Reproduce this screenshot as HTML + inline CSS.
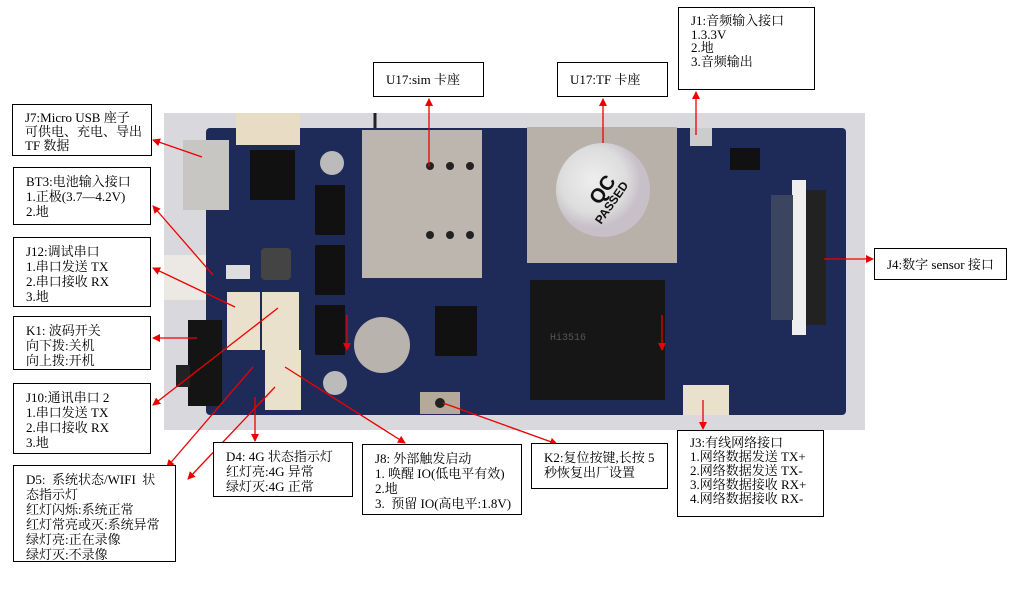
<!DOCTYPE html>
<html><head><meta charset="utf-8"><style>
body{margin:0;width:1012px;height:589px;background:#fff;overflow:hidden;position:relative;font-family:"Liberation Serif","Noto Serif CJK SC","Noto Sans CJK SC",serif;}
.b{position:absolute;border:1px solid #000;background:#fff;font-size:13px;line-height:15px;padding:6px 0 0 12px;box-sizing:border-box;color:#000;white-space:nowrap}
svg{position:absolute;left:0;top:0}
</style></head><body>
<svg width="1012" height="589" viewBox="0 0 1012 589">
<defs><marker id="a" markerWidth="8" markerHeight="8" refX="7" refY="4" orient="auto" markerUnits="userSpaceOnUse"><path d="M0,0L8,4L0,8z" fill="#e00"/></marker>
<radialGradient id="q" cx="40%" cy="40%"><stop offset="0" stop-color="#eee"/><stop offset="0.7" stop-color="#ddd"/><stop offset="1" stop-color="#c8c0c8"/></radialGradient></defs>
<rect x="164" y="113" width="701" height="317" fill="#d9d8dc"/>
<line x1="375" y1="113" x2="375" y2="128" stroke="#222" stroke-width="3"/>
<rect x="206" y="128" width="640" height="287" fill="#1e2a57" rx="4"/>
<rect x="164" y="255" width="42" height="45" fill="#ece9e4"/>
<rect x="236" y="113" width="64" height="32" fill="#e8dcc4"/>
<rect x="183" y="140" width="46" height="70" fill="#c8c6c2"/>
<rect x="250" y="150" width="45" height="50" fill="#111"/>
<rect x="261" y="248" width="30" height="32" fill="#444" rx="4"/>
<rect x="226" y="265" width="24" height="14" fill="#ddd"/>
<rect x="188" y="320" width="34" height="86" fill="#141414"/>
<rect x="176" y="365" width="14" height="22" fill="#222"/>
<rect x="227" y="292" width="33" height="58" fill="#e9e1cc"/>
<rect x="262" y="292" width="37" height="58" fill="#e9e1cc"/>
<rect x="265" y="350" width="36" height="60" fill="#e9e1cc"/>
<rect x="315" y="185" width="30" height="50" fill="#111"/>
<rect x="315" y="245" width="30" height="50" fill="#111"/>
<rect x="315" y="305" width="30" height="50" fill="#111"/>
<circle cx="332" cy="163" r="12" fill="#bbb"/>
<circle cx="335" cy="383" r="12" fill="#bbb"/>
<rect x="362" y="130" width="120" height="148" fill="#bcb6ae"/>
<g fill="#222"><circle cx="430" cy="166" r="4"/><circle cx="450" cy="166" r="4"/><circle cx="470" cy="166" r="4"/><circle cx="430" cy="235" r="4"/><circle cx="450" cy="235" r="4"/><circle cx="470" cy="235" r="4"/></g>
<rect x="527" y="127" width="150" height="136" fill="#b7b1aa"/>
<circle cx="603" cy="190" r="47" fill="url(#q)"/>
<text x="603" y="196" font-family="Liberation Sans,sans-serif" font-weight="bold" font-size="20" text-anchor="middle" fill="#111" transform="rotate(-55 603 190)">QC</text>
<text x="615" y="205" font-family="Liberation Sans,sans-serif" font-weight="bold" font-size="12" text-anchor="middle" fill="#111" transform="rotate(-55 615 205)">PASSED</text>
<circle cx="382" cy="345" r="28" fill="#b9b3ad"/>
<rect x="435" y="306" width="42" height="50" fill="#111"/>
<rect x="530" y="280" width="135" height="120" fill="#161616"/>
<text x="550" y="340" font-family="Liberation Mono,monospace" font-size="10" fill="#555">Hi3516</text>
<rect x="420" y="392" width="40" height="22" fill="#b5a99a"/>
<circle cx="440" cy="403" r="5" fill="#222"/>
<rect x="730" y="148" width="30" height="22" fill="#111"/>
<rect x="792" y="180" width="14" height="155" fill="#eee"/>
<rect x="806" y="190" width="20" height="135" fill="#222"/>
<rect x="771" y="195" width="22" height="125" fill="#3c4560"/>
<rect x="683" y="385" width="46" height="30" fill="#e9e1cc"/>
<rect x="690" y="128" width="22" height="18" fill="#ccc"/>
<g stroke="#e00" stroke-width="1.3" fill="none" marker-end="url(#a)">
<line x1="202" y1="157" x2="153" y2="140"/>
<line x1="213" y1="275" x2="153" y2="206"/>
<line x1="235" y1="307" x2="153" y2="268"/>
<line x1="197" y1="338" x2="153" y2="338"/>
<line x1="278" y1="308" x2="153" y2="405"/>
<line x1="253" y1="367" x2="167" y2="467"/>
<line x1="275" y1="387" x2="188" y2="479"/>
<line x1="255" y1="397" x2="255" y2="441"/>
<line x1="285" y1="367" x2="405" y2="443"/>
<line x1="443" y1="403" x2="557" y2="444"/>
<line x1="347" y1="315" x2="347" y2="350"/>
<line x1="662" y1="315" x2="662" y2="350"/>
<line x1="429" y1="167" x2="429" y2="99"/>
<line x1="603" y1="143" x2="603" y2="99"/>
<line x1="696" y1="135" x2="696" y2="92"/>
<line x1="703" y1="400" x2="703" y2="429"/>
<line x1="824" y1="259" x2="873" y2="259"/>
</g>
</svg>
<div class="b" style="left:12px;top:104px;width:140px;height:52px;padding-top:6px;line-height:14px">J7:Micro USB 座子<br>可供电、充电、导出<br>TF 数据</div>
<div class="b" style="left:13px;top:167px;width:138px;height:58px">BT3:电池输入接口<br>1.正极(3.7—4.2V)<br>2.地</div>
<div class="b" style="left:13px;top:237px;width:138px;height:70px">J12:调试串口<br>1.串口发送 TX<br>2.串口接收 RX<br>3.地</div>
<div class="b" style="left:13px;top:316px;width:138px;height:54px">K1: 波码开关<br>向下拨:关机<br>向上拨:开机</div>
<div class="b" style="left:13px;top:383px;width:138px;height:71px">J10:通讯串口 2<br>1.串口发送 TX<br>2.串口接收 RX<br>3.地</div>
<div class="b" style="left:13px;top:465px;width:163px;height:97px">D5:&nbsp; 系统状态/WIFI&nbsp; 状<br>态指示灯<br>红灯闪烁:系统正常<br>红灯常亮或灭:系统异常<br>绿灯亮:正在录像<br>绿灯灭:不录像</div>
<div class="b" style="left:213px;top:442px;width:140px;height:55px">D4: 4G 状态指示灯<br>红灯亮:4G 异常<br>绿灯灭:4G 正常</div>
<div class="b" style="left:362px;top:444px;width:160px;height:71px">J8: 外部触发启动<br>1. 唤醒 IO(低电平有效)<br>2.地<br>3.&nbsp; 预留 IO(高电平:1.8V)</div>
<div class="b" style="left:531px;top:443px;width:137px;height:46px">K2:复位按键,长按 5<br>秒恢复出厂设置</div>
<div class="b" style="left:677px;top:430px;width:147px;height:87px;padding-top:5px;line-height:14px">J3:有线网络接口<br>1.网络数据发送 TX+<br>2.网络数据发送 TX-<br>3.网络数据接收 RX+<br>4.网络数据接收 RX-</div>
<div class="b" style="left:874px;top:248px;width:133px;height:32px;padding-top:8px">J4:数字 sensor 接口</div>
<div class="b" style="left:678px;top:7px;width:137px;height:83px;padding-top:6px;line-height:13.5px">J1:音频输入接口<br>1.3.3V<br>2.地<br>3.音频输出</div>
<div class="b" style="left:373px;top:62px;width:111px;height:35px;padding-top:9px">U17:sim 卡座</div>
<div class="b" style="left:557px;top:62px;width:111px;height:35px;padding-top:9px">U17:TF 卡座</div>
</body></html>
